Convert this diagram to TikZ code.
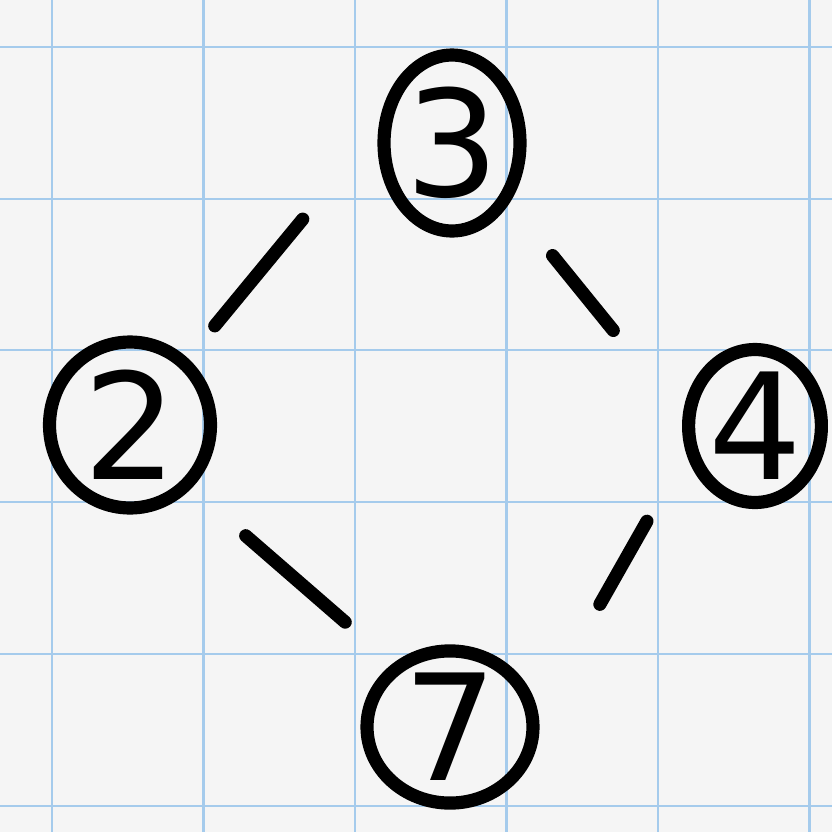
\documentclass[tikz,border=0pt]{standalone}
\usepackage{fontspec}
\setmainfont{DejaVu Sans}
\usetikzlibrary{shapes.geometric}

\definecolor{paper}{RGB}{245,245,245}
\definecolor{gridblue}{RGB}{165,203,236}

\begin{document}
\begin{tikzpicture}[
  x=0.02cm, y=-0.02cm,
  vert/.style={ellipse, draw=black, line width=7.5pt, inner sep=0pt, font=\fontsize{84}{84}\selectfont},
  edge/.style={line width=7.5pt, line cap=round}
]
  % Paper and grid
  \fill[paper] (0,0) rectangle (832,832);
  \useasboundingbox (0,0) rectangle (832,832);
  \foreach \x in {52,203.5,355,506.5,658,809.5} {
    \draw[gridblue, line width=1.3pt] (\x,0) -- (\x,832);
  }
  \foreach \y in {47,199,350,502,654,806} {
    \draw[gridblue, line width=1.3pt] (0,\y) -- (832,\y);
  }
  % Vertices
  \node[vert, minimum width=2.72cm, minimum height=3.52cm] (n3) at (452,143) {3};
  \node[vert, minimum width=3.22cm, minimum height=3.32cm] (n2) at (130,425) {2};
  \node[vert, minimum width=2.64cm, minimum height=3.06cm] (n4) at (755,426) {4};
  \node[vert, minimum width=3.32cm, minimum height=2.88cm] (n7) at (450,727) {7};
  % Edges (short strokes, gaps at both ends)
  \draw[edge, shorten <=2.38cm, shorten >=0.84cm] (n3.168) -- (n2.49);
  \draw[edge, shorten <=1.36cm, shorten >=2.2cm] (n3.314) -- (n4.172);
  \draw[edge, shorten <=1.44cm, shorten >=1.26cm] (n2.314) -- (n7.132);
  \draw[edge, shorten <=1.58cm, shorten >=2.5cm] (n4.201) -- (n7.9);
\end{tikzpicture}
\end{document}
